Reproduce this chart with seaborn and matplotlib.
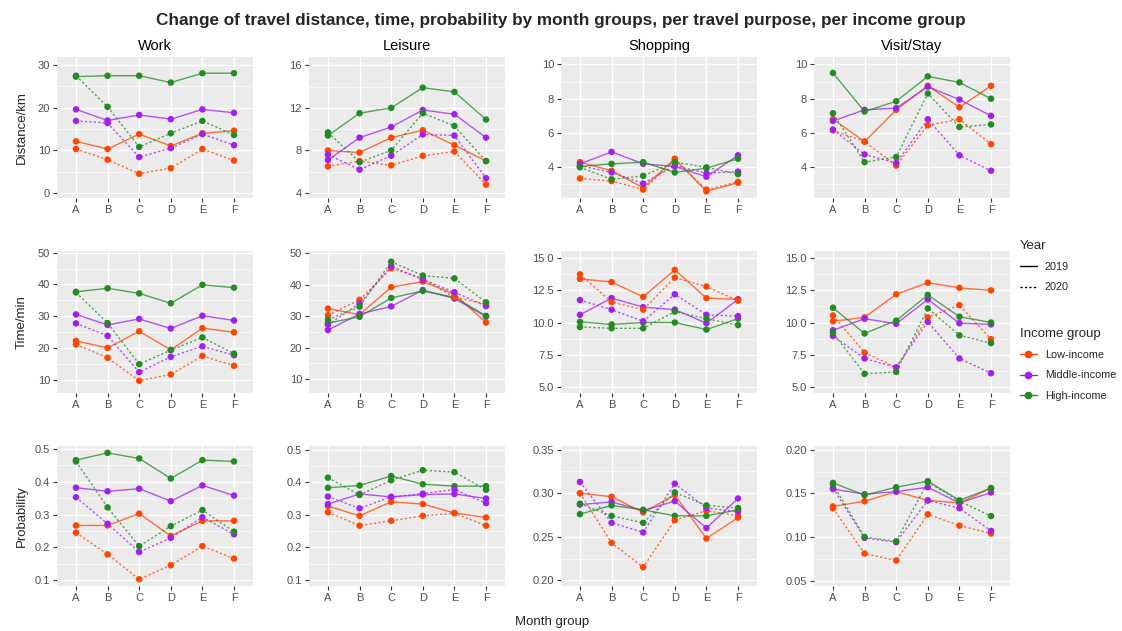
import pandas as pd
import matplotlib.pyplot as plt
import seaborn as sns
from matplotlib.lines import Line2D
from matplotlib.ticker import MultipleLocator, FixedLocator

# Data: each list holds [Low-income, Middle-income, High-income] series over months A-F
months = ["A", "B", "C", "D", "E", "F"]
incomes = ["Low-income", "Middle-income", "High-income"]
years = ["2019", "2020"]
purposes = ["Work", "Leisure", "Shopping", "Visit/Stay"]
measures = ["Distance/km", "Time/min", "Probability"]

work_dist_2019 = [[12.1, 10.3, 13.8, 11.0, 14.0, 14.6],
                  [19.6, 17.0, 18.3, 17.3, 19.6, 18.8],
                  [27.3, 27.5, 27.5, 25.9, 28.1, 28.1]]
work_dist_2020 = [[10.3, 7.8, 4.5, 5.8, 10.3, 7.6],
                  [16.9, 16.4, 8.4, 10.5, 13.8, 11.2],
                  [27.5, 20.2, 10.8, 14.0, 16.9, 13.6]]
leisure_dist_2019 = [[8.0, 7.8, 9.2, 9.9, 8.5, 7.0],
                     [7.1, 9.2, 10.2, 11.8, 11.4, 9.2],
                     [9.4, 11.5, 12.0, 13.9, 13.5, 10.9]]
leisure_dist_2020 = [[6.5, 7.0, 6.6, 7.5, 7.9, 4.8],
                     [7.6, 6.2, 7.5, 9.5, 9.4, 5.4],
                     [9.7, 6.9, 8.0, 11.5, 10.3, 7.0]]
shop_dist_2019 = [[4.3, 3.8, 2.8, 4.5, 2.6, 3.1],
                  [4.2, 4.9, 4.2, 4.05, 3.45, 4.7],
                  [4.05, 4.2, 4.3, 3.7, 3.95, 4.5]]
shop_dist_2020 = [[3.35, 3.2, 2.7, 4.4, 2.7, 3.15],
                  [4.1, 3.7, 3.05, 4.1, 3.65, 3.75],
                  [4.0, 3.3, 3.5, 4.3, 4.0, 3.6]]
visit_dist_2019 = [[6.8, 5.5, 7.35, 8.75, 7.5, 8.75],
                   [6.7, 7.35, 7.45, 8.7, 7.95, 7.0],
                   [9.5, 7.25, 7.85, 9.3, 8.95, 8.0]]
visit_dist_2020 = [[6.15, 5.5, 4.1, 6.45, 6.8, 5.35],
                   [6.2, 4.75, 4.25, 6.8, 4.7, 3.8],
                   [7.15, 4.3, 4.6, 8.3, 6.35, 6.5]]

work_time_2019 = [[22.3, 20.1, 25.3, 19.5, 26.3, 25.0],
                  [30.6, 27.3, 29.2, 26.2, 30.2, 28.7],
                  [37.7, 38.8, 37.2, 34.1, 39.9, 39.0]]
work_time_2020 = [[21.2, 17.0, 9.8, 11.8, 17.6, 14.5],
                  [27.8, 23.9, 12.5, 17.3, 20.6, 17.8],
                  [37.5, 27.9, 15.0, 19.4, 23.4, 18.3]]
leisure_time_2019 = [[32.4, 30.5, 39.2, 41.0, 37.0, 28.0],
                     [25.6, 30.7, 33.1, 38.3, 35.6, 29.9],
                     [27.8, 29.8, 35.8, 38.0, 36.0, 30.1]]
leisure_time_2020 = [[30.3, 35.2, 45.2, 42.0, 36.0, 33.8],
                     [27.3, 34.0, 45.9, 41.6, 37.6, 33.2],
                     [28.9, 33.0, 47.3, 42.9, 42.0, 34.4]]
shop_time_2019 = [[13.4, 13.15, 12.0, 14.1, 11.9, 11.8],
                  [10.6, 11.9, 11.2, 11.0, 9.95, 11.8],
                  [10.05, 9.85, 10.0, 10.0, 9.45, 10.3]]
shop_time_2020 = [[13.75, 11.6, 11.0, 13.5, 12.8, 11.7],
                  [11.75, 11.0, 10.1, 12.2, 10.6, 10.5],
                  [9.65, 9.55, 9.55, 10.85, 10.3, 9.8]]
visit_time_2019 = [[10.1, 10.4, 12.2, 13.1, 12.7, 12.5],
                   [9.4, 10.3, 9.9, 11.8, 9.95, 9.85],
                   [11.15, 9.15, 10.15, 12.15, 10.45, 10.0]]
visit_time_2020 = [[10.55, 7.65, 6.5, 10.4, 11.35, 8.7],
                   [8.95, 7.2, 6.5, 10.05, 7.2, 6.05],
                   [9.2, 6.0, 6.15, 11.1, 9.0, 8.4]]

work_prob_2019 = [[0.267, 0.267, 0.303, 0.235, 0.281, 0.281],
                  [0.382, 0.371, 0.379, 0.341, 0.389, 0.358],
                  [0.466, 0.488, 0.471, 0.410, 0.466, 0.462]]
work_prob_2020 = [[0.245, 0.179, 0.103, 0.146, 0.204, 0.166],
                  [0.353, 0.272, 0.186, 0.229, 0.292, 0.240],
                  [0.462, 0.322, 0.204, 0.265, 0.314, 0.248]]
leisure_prob_2019 = [[0.327, 0.297, 0.340, 0.333, 0.306, 0.292],
                     [0.333, 0.364, 0.355, 0.362, 0.364, 0.350],
                     [0.383, 0.390, 0.419, 0.394, 0.388, 0.388]]
leisure_prob_2020 = [[0.308, 0.267, 0.282, 0.297, 0.305, 0.267],
                     [0.356, 0.320, 0.355, 0.365, 0.378, 0.336],
                     [0.414, 0.361, 0.406, 0.437, 0.431, 0.377]]
shop_prob_2019 = [[0.300, 0.296, 0.278, 0.298, 0.248, 0.272],
                  [0.287, 0.290, 0.280, 0.291, 0.260, 0.294],
                  [0.276, 0.286, 0.281, 0.274, 0.274, 0.281]]
shop_prob_2020 = [[0.300, 0.243, 0.215, 0.269, 0.280, 0.274],
                  [0.313, 0.266, 0.255, 0.311, 0.283, 0.279],
                  [0.288, 0.274, 0.266, 0.301, 0.286, 0.283]]
visit_prob_2019 = [[0.135, 0.141, 0.152, 0.142, 0.139, 0.156],
                   [0.155, 0.149, 0.152, 0.157, 0.139, 0.151],
                   [0.162, 0.148, 0.157, 0.164, 0.142, 0.156]]
visit_prob_2020 = [[0.133, 0.081, 0.073, 0.126, 0.113, 0.104],
                   [0.156, 0.099, 0.094, 0.142, 0.133, 0.107],
                   [0.160, 0.100, 0.095, 0.163, 0.141, 0.124]]

# y ticks per panel (rows = measures, cols = purposes)
yticks = [
    [[0, 10, 20, 30], [4, 8, 12, 16], [4, 6, 8, 10], [4, 6, 8, 10]],
    [[10, 20, 30, 40, 50], [10, 20, 30, 40, 50], [5, 7.5, 10, 12.5, 15], [5, 7.5, 10, 12.5, 15]],
    [[0.1, 0.2, 0.3, 0.4, 0.5], [0.1, 0.2, 0.3, 0.4, 0.5], [0.20, 0.25, 0.30, 0.35], [0.05, 0.10, 0.15, 0.20]],
]
ylims = [
    [(-1.2, 31.9), (3.53, 16.78), (2.21, 10.43), (2.21, 10.43)],
    [(5.96, 50.5), (5.6, 50.7), (4.51, 15.57), (4.51, 15.57)],
    [(0.0825, 0.509), (0.082, 0.511), (0.1934, 0.3543), (0.0438, 0.2043)],
]
ytickfmt = [["{:.0f}"] * 4, ["{:.0f}", "{:.0f}", "{:.1f}", "{:.1f}"],
            ["{:.1f}", "{:.1f}", "{:.2f}", "{:.2f}"]]

panels = {
    ("Distance/km", "Work"): (work_dist_2019, work_dist_2020),
    ("Distance/km", "Leisure"): (leisure_dist_2019, leisure_dist_2020),
    ("Distance/km", "Shopping"): (shop_dist_2019, shop_dist_2020),
    ("Distance/km", "Visit/Stay"): (visit_dist_2019, visit_dist_2020),
    ("Time/min", "Work"): (work_time_2019, work_time_2020),
    ("Time/min", "Leisure"): (leisure_time_2019, leisure_time_2020),
    ("Time/min", "Shopping"): (shop_time_2019, shop_time_2020),
    ("Time/min", "Visit/Stay"): (visit_time_2019, visit_time_2020),
    ("Probability", "Work"): (work_prob_2019, work_prob_2020),
    ("Probability", "Leisure"): (leisure_prob_2019, leisure_prob_2020),
    ("Probability", "Shopping"): (shop_prob_2019, shop_prob_2020),
    ("Probability", "Visit/Stay"): (visit_prob_2019, visit_prob_2020),
}

rows = []
for (measure, purpose), (d19, d20) in panels.items():
    for year, block in zip(years, (d19, d20)):
        for income, series in zip(incomes, block):
            for i, (m, v) in enumerate(zip(months, series)):
                rows.append(dict(measure=measure, purpose=purpose, year=year,
                                 income=income, month=m, pos=i, value=v))
df = pd.DataFrame(rows)

palette = {"Low-income": "#FF4500", "Middle-income": "#A020F0", "High-income": "#228B22"}
dash_map = {"2019": "", "2020": (1.6, 1.6)}

sns.set_theme(style="darkgrid", rc={"axes.facecolor": "#EBEBEB", "grid.color": "white"})
plt.rcParams['font.family'] = ['Liberation Sans', 'DejaVu Sans']

W, H = 1122, 631
fig = plt.figure(figsize=(W / 100, H / 100), dpi=100)

col_left = [57, 309, 561, 814]
col_w = 196
row_top = [57, 251, 446]
row_h = [141, 142, 140]

for r, measure in enumerate(measures):
    for c, purpose in enumerate(purposes):
        ax = fig.add_axes([col_left[c] / W, 1 - (row_top[r] + row_h[r]) / H,
                           col_w / W, row_h[r] / H])
        sub = df[(df.measure == measure) & (df.purpose == purpose)]
        sns.lineplot(data=sub, x="pos", y="value", hue="income", style="year",
                     hue_order=incomes, style_order=years, palette=palette,
                     dashes=dash_map, linewidth=1.0, alpha=0.75,
                     estimator=None, sort=False, legend=False, ax=ax)
        sns.scatterplot(data=sub, x="pos", y="value", hue="income",
                        hue_order=incomes, palette=palette, s=22,
                        linewidth=0, legend=False, ax=ax, zorder=3)
        ax.set_xlim(-0.6, 5.6)
        ax.set_ylim(*ylims[r][c])
        ax.set_xticks(range(len(months)))
        ax.set_xticklabels(months)
        yt = yticks[r][c]
        ax.yaxis.set_major_locator(FixedLocator(yt))
        ax.set_yticklabels([ytickfmt[r][c].format(t) for t in yt])
        step = yt[1] - yt[0]
        ax.yaxis.set_minor_locator(MultipleLocator(step / 2))
        ax.grid(which="major", color="white", linewidth=1.0)
        ax.grid(which="minor", axis="y", color="white", linewidth=0.5)
        ax.set_xlabel("")
        ax.set_ylabel("")
        for s in ax.spines.values():
            s.set_visible(False)
        ax.tick_params(axis="both", which="major", length=3, width=0.8,
                       color="#333333", labelcolor="#4D4D4D", labelsize=8, pad=2,
                       bottom=True, left=True)
        ax.tick_params(axis="both", which="minor", length=0)
        if r == 0:
            ax.set_title(purpose, fontsize=10.5, pad=5, color="black")

fig.text(0.5, 1 - 20 / H,
         "Change of travel distance, time, probability by month groups, per travel purpose, per income group",
         ha="center", va="center", fontsize=12.3, fontweight="bold")
for r, measure in enumerate(measures):
    yc = 1 - (row_top[r] + row_h[r] / 2) / H
    fig.text(22 / W, yc, measure, rotation=90, ha="center", va="center", fontsize=9.5)
fig.text(552 / W, 1 - 622 / H, "Month group", ha="center", va="center", fontsize=9.5)

year_handles = [Line2D([], [], color="black", linewidth=1.0, linestyle="-"),
                Line2D([], [], color="black", linewidth=1.0, dashes=(1.6, 1.6))]
fig.legend(year_handles, years, title="Year", loc="upper left",
           bbox_to_anchor=(1010 / W, 1 - 230 / H), frameon=False,
           fontsize=7.8, title_fontsize=9.5, handlelength=1.6,
           labelspacing=0.95, handletextpad=0.7, alignment="left")
inc_handles = [Line2D([], [], color=palette[i], linewidth=1.0, marker="o",
                      markersize=4.5) for i in incomes]
fig.legend(inc_handles, incomes, title="Income group", loc="upper left",
           bbox_to_anchor=(1010 / W, 1 - 318 / H), frameon=False,
           fontsize=7.8, title_fontsize=9.5, handlelength=1.6,
           labelspacing=0.95, handletextpad=0.7, alignment="left")

fig.savefig("out.png", dpi=100)
